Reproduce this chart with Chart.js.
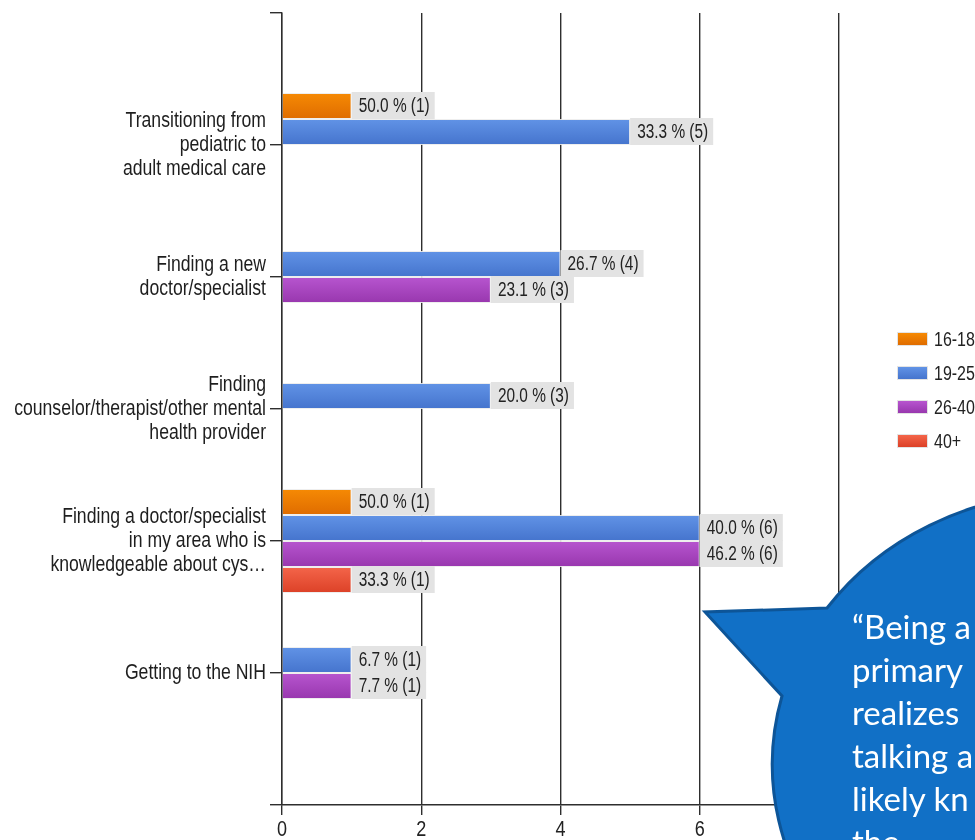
<!DOCTYPE html>
<html>
<head>
<meta charset="utf-8">
<script src="https://cdn.jsdelivr.net/npm/chart.js@4.4.1/dist/chart.umd.min.js"></script>
<style>
  html, body { margin: 0; padding: 0; background: #fff; }
  #wrap { position: relative; width: 975px; height: 840px; overflow: hidden; }
  #chart-box { position: absolute; left: 0; top: 0; width: 975px; height: 840px; }
  #legend { position: absolute; left: 897px; top: 332px; margin: 0; padding: 0; list-style: none;
            font-family: 'Liberation Sans', Arial, sans-serif; font-size: 19.5px; color: #222; }
  #legend li { display: flex; align-items: center; height: 14px; margin-bottom: 20px; white-space: nowrap; }
  #legend .sw { width: 31px; height: 14px; margin-right: 6px; border: 1px solid #e4e4e4; box-sizing: border-box; flex: none; }
  #legend .txt { display: inline-block; transform: scaleX(0.82); transform-origin: left center; }
  #callout { position: absolute; left: 0; top: 0; pointer-events: none; }
</style>
</head>
<body>
<div id="wrap">
  <div id="chart-box"><canvas id="needs-chart"></canvas></div>
  <ul id="legend"></ul>
  <svg id="callout" width="975" height="840" xmlns="http://www.w3.org/2000/svg"></svg>
</div>
<script>
// ---------- 데이터 ----------
const categories = [
  ['Transitioning from', 'pediatric to', 'adult medical care'],
  ['Finding a new', 'doctor/specialist'],
  ['Finding', 'counselor/therapist/other mental', 'health provider'],
  ['Finding a doctor/specialist', 'in my area who is', 'knowledgeable about cys…'],
  ['Getting to the NIH'],
];
const ageGroups = ['16-18', '19-25', '26-40', '40+'];

// 응답 수 (막대 길이)
const counts16 = [1, null, null, 1, null];
const counts19 = [5, 4, 3, 6, 1];
const counts26 = [null, 3, null, 6, 1];
const counts40 = [null, null, null, 1, null];

// 연령대 내 비율 (%)
const pct16 = [50.0, null, null, 50.0, null];
const pct19 = [33.3, 26.7, 20.0, 40.0, 6.7];
const pct26 = [null, 23.1, null, 46.2, 7.7];
const pct40 = [null, null, null, 33.3, null];

const xTicks = [0, 2, 4, 6, 8];

const calloutLines = ['\u201CBeing a', 'primary', 'realizes', 'talking a', 'likely kn', 'the'];

// ---------- 스타일 ----------
// 좁은 글꼴이 없어서 Liberation Sans 를 가로로 눌러 그린다
const FONT = "'Liberation Sans', Arial, sans-serif";
const NARROW = 0.82;
const CAT_PCT = 0.788;
// 막대 그라데이션 (위 -> 아래)
const SERIES_COLORS = [
  ['#f68a04', '#df6c00'],
  ['#6193e6', '#4574cd'],
  ['#b755cf', '#9837ae'],
  ['#f4654a', '#dc4127'],
];
const GRID = '#2e2e2e';

// 위/아래에 빈 칸을 하나씩 두어 첫·마지막 항목이 축 끝에 붙지 않게 한다
const pad = (arr) => [null, ...arr, null];
const yLabels = ['', ...categories, ''];
const countSets = [counts16, counts19, counts26, counts40];
const pctSets = [pct16, pct19, pct26, pct40];

function barFill(ctx, di) {
  const [top, bottom] = SERIES_COLORS[di];
  const chart = ctx.chart;
  const y = chart.scales && chart.scales.y;
  if (!chart.chartArea || !y || ctx.dataIndex === undefined) return top;
  const band = (y.getPixelForValue(1) - y.getPixelForValue(0)) * CAT_PCT;
  const slot = band / ageGroups.length;
  const y0 = y.getPixelForValue(ctx.dataIndex) - band / 2 + di * slot;
  const g = chart.ctx.createLinearGradient(0, y0, 0, y0 + slot);
  g.addColorStop(0, top);
  g.addColorStop(1, bottom);
  return g;
}

function narrowText(ctx, text, x, y, align, k = NARROW) {
  ctx.save();
  ctx.translate(x, y);
  ctx.scale(k, 1);
  ctx.textAlign = align;
  ctx.fillText(text, 0, 0);
  ctx.restore();
}

// 축 라벨 (y: 여러 줄 항목명, x: 눈금 숫자)
const axisLabels = {
  id: 'axisLabels',
  afterDraw(chart) {
    const { ctx, chartArea, scales } = chart;
    ctx.save();
    ctx.textBaseline = 'middle';
    ctx.fillStyle = '#1e1e1e';
    ctx.font = `21.5px ${FONT}`;
    const lineH = 24;
    yLabels.forEach((lines, i) => {
      if (!lines) return;
      const cy = scales.y.getPixelForValue(i);
      const y0 = cy - ((lines.length - 1) * lineH) / 2;
      lines.forEach((line, k) => narrowText(ctx, line, chartArea.left - 16, y0 + k * lineH, 'right'));
    });
    ctx.font = `22px ${FONT}`;
    ctx.fillStyle = '#222';
    xTicks.forEach((v) => narrowText(ctx, String(v), scales.x.getPixelForValue(v), chartArea.bottom + 25, 'center'));
    ctx.restore();
  },
};

// 막대 끝의 회색 값 라벨 "50.0 % (1)"
const VALUE_NARROW = 0.79;
const valueLabels = {
  id: 'valueLabels',
  afterDatasetsDraw(chart) {
    const { ctx } = chart;
    const items = [];
    ctx.save();
    ctx.font = `19.5px ${FONT}`;
    chart.data.datasets.forEach((ds, di) => {
      const meta = chart.getDatasetMeta(di);
      meta.data.forEach((bar, i) => {
        const n = ds.data[i];
        if (n == null) return;
        const text = `${ds.pct[i].toFixed(1)} % (${n})`;
        const w = ctx.measureText(text).width * VALUE_NARROW + 12;
        items.push({ x: bar.x, y: bar.y, h: bar.height, w, text });
      });
    });
    ctx.fillStyle = '#e3e3e3';
    items.forEach((it) => ctx.fillRect(it.x, it.y - it.h / 2 - 1, it.w, it.h + 1));
    ctx.fillStyle = '#222';
    ctx.textBaseline = 'middle';
    items.forEach((it) => narrowText(ctx, it.text, it.x + 7, it.y + 1, 'left', VALUE_NARROW));
    ctx.restore();
  },
};

Chart.defaults.font.family = FONT;
Chart.defaults.color = '#222';

const chart = new Chart(document.getElementById('needs-chart'), {
  type: 'bar',
  data: {
    labels: yLabels,
    datasets: ageGroups.map((label, di) => ({
      label,
      data: pad(countSets[di]),
      pct: pad(pctSets[di]),
      backgroundColor: (ctx) => barFill(ctx, di),
      borderColor: 'rgba(236,236,236,0.9)',
      borderWidth: 1,
      categoryPercentage: CAT_PCT,
      barPercentage: 1,
    })),
  },
  options: {
    indexAxis: 'y',
    animation: false,
    responsive: true,
    maintainAspectRatio: false,
    layout: { padding: { top: 13, right: 136, bottom: 0, left: 0 } },
    plugins: {
      legend: { display: false },
      tooltip: { enabled: false },
    },
    scales: {
      x: {
        min: 0,
        max: 8,
        afterBuildTicks: (scale) => { scale.ticks = xTicks.map((v) => ({ value: v })); },
        afterFit: (scale) => { scale.height = 35; },
        grid: { color: GRID, lineWidth: 1.4, tickLength: 10, drawTicks: true },
        border: { color: GRID, width: 1.4 },
        ticks: { display: false },
      },
      y: {
        type: 'category',
        offset: false,
        afterFit: (scale) => { scale.width = 282; },
        grid: { offset: false, drawOnChartArea: false, drawTicks: true, tickLength: 12, color: GRID, lineWidth: 1.4 },
        border: { color: GRID, width: 1.4 },
        ticks: { display: false, autoSkip: false },
      },
    },
  },
  plugins: [valueLabels, axisLabels],
});

// ---------- 범례 ----------
const legendEl = document.getElementById('legend');
ageGroups.forEach((label, di) => {
  const li = document.createElement('li');
  const sw = document.createElement('span');
  sw.className = 'sw';
  sw.style.background = `linear-gradient(${SERIES_COLORS[di][0]}, ${SERIES_COLORS[di][1]})`;
  const txt = document.createElement('span');
  txt.className = 'txt';
  txt.textContent = label;
  li.appendChild(sw);
  li.appendChild(txt);
  legendEl.appendChild(li);
});

// ---------- 말풍선 ----------
const svgNS = 'http://www.w3.org/2000/svg';
const svg = document.getElementById('callout');
const bubble = document.createElementNS(svgNS, 'path');
bubble.setAttribute('d', 'M 827 608 L 705 612 L 782 696 A 300 272 0 1 0 827 608 Z');
bubble.setAttribute('fill', '#1170c6');
bubble.setAttribute('stroke', '#0d5598');
bubble.setAttribute('stroke-width', '3');
bubble.setAttribute('stroke-linejoin', 'miter');
svg.appendChild(bubble);
calloutLines.forEach((line, i) => {
  const t = document.createElementNS(svgNS, 'text');
  t.setAttribute('x', 852);
  t.setAttribute('y', 639 + i * 43);
  t.setAttribute('fill', '#ffffff');
  t.setAttribute('font-family', "Lato, 'Open Sans', sans-serif");
  t.setAttribute('font-size', '33');
  t.textContent = line;
  svg.appendChild(t);
});
</script>
</body>
</html>
